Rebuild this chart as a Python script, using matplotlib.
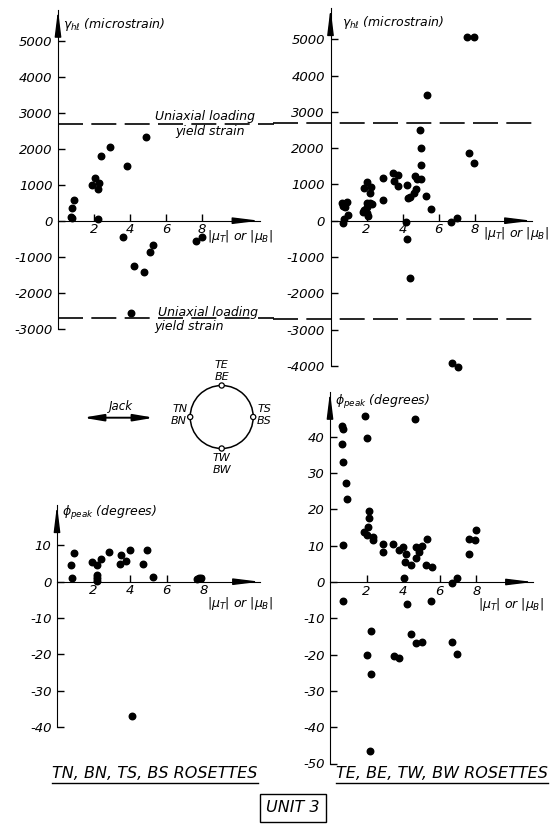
import matplotlib

matplotlib.use("Agg")
import matplotlib.pyplot as plt
from matplotlib.patches import Circle

plt.rcParams["font.family"] = ["DejaVu Sans"]
plt.rcParams["font.style"] = "italic"
plt.rcParams["font.size"] = 9
plt.rcParams["mathtext.fontset"] = "dejavusans"
plt.rcParams["axes.unicode_minus"] = False

W, H = 552, 833

# --------------------------------------------------------------------------- #
# Data (x = |mu_T| or |mu_B|)
# --------------------------------------------------------------------------- #
# gamma_hl, TN/BN/TS/BS rosettes
mu_nsg = [0.70, 0.78, 0.75, 0.90, 1.90, 2.05, 2.25, 2.20, 2.20, 2.40, 2.90,
          3.60, 3.85, 4.05, 4.20, 4.75, 4.90, 5.10, 5.30, 7.65, 8.00]
gam_ns = [110, 70, 340, 570, 1000, 1200, 1050, 880, 40, 1800, 2050,
          -460, 1520, -2550, -1260, -1430, 2330, -880, -680, -570, -460]

# gamma_hl, TE/BE/TW/BW rosettes
mu_ewg = [0.62, 0.75, 0.93, 0.71, 0.80, 0.95, 0.75, 0.69,
          1.82, 1.88, 1.86, 2.05, 2.23, 2.19, 2.01, 2.19, 2.29, 2.00, 2.01, 2.07,
          2.90, 2.93, 3.49, 3.77, 3.53, 3.77, 4.23, 4.69, 4.79, 5.03, 4.75, 4.64,
          4.31, 4.42, 5.30, 5.57, 4.18, 4.23, 4.43,
          4.97, 5.05, 5.00, 5.35,
          6.69, 7.01, 6.73, 7.10,
          7.60, 7.95, 7.70, 7.95]
gam_ew = [496, 470, 515, 405, 380, 157, 39, -72,
          248, 295, 893, 1075, 937, 755, 480, 480, 470, 386, 204, 130,
          570, 1168, 1306, 1270, 1094, 965, 984, 1230, 1149, 1149, 880, 772,
          617, 662, 689, 322, -28, -513, -1588,
          2500, 2000, 1530, 3470,
          -28, 66, -3930, -4040,
          5050, 5050, 1870, 1590]

# phi_peak, TN/BN/TS/BS rosettes
mu_nsp = [0.75, 0.93, 0.80, 1.90, 2.17, 2.39, 2.17, 2.17, 2.17, 2.86, 3.48,
          3.44, 3.77, 3.99, 4.68, 4.90, 5.26, 7.63, 7.78, 7.89, 4.08]
phi_ns = [4.6, 7.8, 0.9, 5.3, 4.6, 6.2, 1.8, 0.9, 0.1, 8.1, 7.3,
          4.9, 5.7, 8.7, 5.0, 8.7, 1.2, 0.7, 0.9, 0.9, -37.0]

# phi_peak, TE/BE/TW/BW rosettes
mu_ewp = [0.64, 0.69, 0.66, 0.73, 0.87, 0.95, 0.73, 1.91, 2.00, 2.13, 2.15,
          2.06, 1.86, 2.04, 2.33, 2.33, 2.91, 2.88, 3.46, 3.79, 4.01, 4.15,
          4.10, 4.43, 4.04, 4.64, 4.70, 4.70, 4.88, 4.88, 5.01, 5.28, 5.23,
          5.56, 6.65, 6.96, 7.61, 7.61, 7.92, 7.98,
          0.73, 4.19, 5.50, 2.22, 2.04, 2.24, 3.50, 3.79, 4.43, 4.68, 5.01,
          6.65, 6.96, 2.19]
phi_ew = [43.1, 42.1, 38.0, 33.0, 27.2, 23.0, 10.1, 45.8, 39.6, 19.6, 17.7,
          15.2, 13.7, 12.9, 12.5, 11.6, 10.5, 8.2, 10.5, 8.8, 9.7, 7.7,
          5.6, 4.7, 1.0, 44.8, 6.5, 9.6, 9.3, 8.4, 10.0, 11.8, 4.7,
          4.0, -0.4, 1.0, 7.7, 11.8, 11.6, 14.3,
          -5.1, -6.1, -5.2, -13.4, -20.1, -25.3, -20.4, -21.0, -14.3, -16.7, -16.4,
          -16.4, -19.8, -46.5]

yield_strain = 2700
gam_ticks_ns = list(range(-3000, 5001, 1000))
gam_ticks_ew = list(range(-4000, 5001, 1000))
phi_ticks_ns = list(range(-40, 11, 10))
phi_ticks_ew = list(range(-50, 41, 10))
mu_ticks = [2, 4, 6, 8]

XLAB = r"$|\mu_T|$ or $|\mu_B|$"
GLAB = r"$\gamma_{h\ell}$ (microstrain)"
PLAB = r"$\phi_{peak}$ (degrees)"

fig = plt.figure(figsize=(W / 100, H / 100), dpi=100)


def make_panel(x0, y0, xs, ys, xlim, ylim):
    # x0, y0: pixel position of the data origin; xs, ys: pixels per data unit
    left = x0 + xlim[0] * xs
    right = x0 + xlim[1] * xs
    top = y0 - ylim[1] * ys
    bottom = y0 - ylim[0] * ys
    ax = fig.add_axes([left / W, 1 - bottom / H, (right - left) / W, (bottom - top) / H])
    ax.set_xlim(xlim)
    ax.set_ylim(ylim)
    ax.patch.set_visible(False)
    return ax


def style_axes(ax, ybot, ytop, xend, yticks, head):
    for s in ("top", "right"):
        ax.spines[s].set_visible(False)
    ax.spines["left"].set_position(("data", 0))
    ax.spines["bottom"].set_position(("data", 0))
    ax.spines["left"].set_bounds(ybot, ytop)
    ax.spines["bottom"].set_bounds(0, xend)
    ax.set_xticks(mu_ticks)
    ax.set_yticks(yticks)
    ax.tick_params(direction="in", length=5, width=1, labelsize=9.5, pad=4)
    ax.tick_params(axis="x", pad=2)
    arrow = dict(arrowstyle="-|>,head_length=1.3,head_width=0.16", mutation_scale=12,
                 color="k", lw=1, shrinkA=0, shrinkB=0)
    ax.annotate("", xy=(0, ytop), xytext=(0, ytop - head[1]), arrowprops=arrow,
                annotation_clip=False)
    ax.annotate("", xy=(xend, 0), xytext=(xend - head[0], 0), arrowprops=arrow,
                annotation_clip=False)


dash = dict(color="k", lw=1.2, dashes=(15, 5), clip_on=False)
dot = dict(s=22, color="k", zorder=3, clip_on=False)

# top-left: gamma, TN/BN/TS/BS
ax1 = make_panel(58, 220.7, 18, 0.036, (0, 12.2), (-3050, 5900))
style_axes(ax1, -3000, 5860, 11.2, gam_ticks_ns, (1.0, 500))
ax1.scatter(mu_nsg, gam_ns, **dot)
ax1.plot([0, 12.0], [yield_strain] * 2, **dash)
ax1.plot([0, 12.0], [-yield_strain] * 2, **dash)
ax1.text(8.17, 2900, "Uniaxial loading", ha="center", va="center")
ax1.text(8.44, 2480, "yield strain", ha="center", va="center")
ax1.text(8.33, -2550, "Uniaxial loading", ha="center", va="center")
ax1.text(7.28, -2950, "yield strain", ha="center", va="center")
ax1.text(0.3, 5440, GLAB, ha="left", va="center")
ax1.text(8.3, -450, XLAB, ha="left", va="center")

# top-right: gamma, TE/BE/TW/BW
ax2 = make_panel(330.5, 220.7, 18, 0.03628, (-3.3, 11.5), (-4100, 5900))
style_axes(ax2, -4000, 5860, 11.2, gam_ticks_ew, (1.0, 500))
ax2.scatter(mu_ewg, gam_ew, **dot)
ax2.plot([-3.2, 11.3], [yield_strain] * 2, **dash)
ax2.plot([-3.2, 11.3], [-yield_strain] * 2, **dash)
ax2.text(0.62, 5450, GLAB, ha="left", va="center")
ax2.text(8.45, -340, XLAB, ha="left", va="center")

# bottom-left: phi, TN/BN/TS/BS
ax3 = make_panel(57, 581.7, 18.3, 3.63, (0, 11.3), (-41, 21.5))
style_axes(ax3, -40, 21.1, 11.1, phi_ticks_ns, (1.0, 5))
ax3.scatter(mu_nsp, phi_ns, **dot)
ax3.text(0.26, 18.9, PLAB, ha="left", va="center")
ax3.text(8.2, -6.0, XLAB, ha="left", va="center")

# bottom-right: phi, TE/BE/TW/BW
ax4 = make_panel(330, 582, 18.3, 3.63, (0, 11.3), (-51, 52.8))
style_axes(ax4, -50, 52.4, 11.1, phi_ticks_ew, (1.0, 5))
ax4.scatter(mu_ewp, phi_ew, **dot)
ax4.text(0.27, 49.7, PLAB, ha="left", va="center")
ax4.text(8.1, -6.3, XLAB, ha="left", va="center")

# --------------------------------------------------------------------------- #
# Rosette sketch, captions (figure pixel coordinates)
# --------------------------------------------------------------------------- #
ax0 = fig.add_axes([0, 0, 1, 1])
ax0.set_xlim(0, W)
ax0.set_ylim(H, 0)
ax0.axis("off")

cx, cy, r = 221.7, 417, 31.5
ax0.add_patch(Circle((cx, cy), r, fill=False, lw=1.1, color="k"))
for dx, dy in [(0, -r), (0, r), (-r, 0), (r, 0)]:
    ax0.add_patch(Circle((cx + dx, cy + dy), 2.6, fc="w", ec="k", lw=0.9, zorder=3))
lab = dict(fontsize=8, va="center")
ax0.text(cx, 364.5, "TE", ha="center", **lab)
ax0.text(cx, 376.5, "BE", ha="center", **lab)
ax0.text(cx, 457.5, "TW", ha="center", **lab)
ax0.text(cx, 469.5, "BW", ha="center", **lab)
ax0.text(cx - r - 3, 409, "TN", ha="right", **lab)
ax0.text(cx - r - 3, 421, "BN", ha="right", **lab)
ax0.text(cx + r + 4, 409, "TS", ha="left", **lab)
ax0.text(cx + r + 4, 421, "BS", ha="left", **lab)

ax0.text(120.8, 406.5, "Jack", ha="center", va="center", fontsize=8.5)
ax0.annotate("", xy=(83, 417.7), xytext=(154, 417.7),
             arrowprops=dict(arrowstyle="<|-|>,head_length=1.0,head_width=0.17",
                             mutation_scale=12, lw=1.4, color="k", shrinkA=0, shrinkB=0))

cap1 = ax0.text(155, 774, "TN, BN, TS, BS ROSETTES", ha="center", va="center", fontsize=11.5)
cap2 = ax0.text(442, 774, "TE, BE, TW, BW ROSETTES", ha="center", va="center", fontsize=11.5)
ax0.text(293, 808, "UNIT 3", ha="center", va="center", fontsize=11.5,
         bbox=dict(boxstyle="square,pad=0.4", fc="w", ec="k", lw=1))

fig.canvas.draw()
for t in (cap1, cap2):
    bb = t.get_window_extent()
    ax0.plot([bb.x0, bb.x1], [H - bb.y0 + 1.0] * 2, color="k", lw=1)

fig.savefig("out.png", dpi=100)
plt.close(fig)
